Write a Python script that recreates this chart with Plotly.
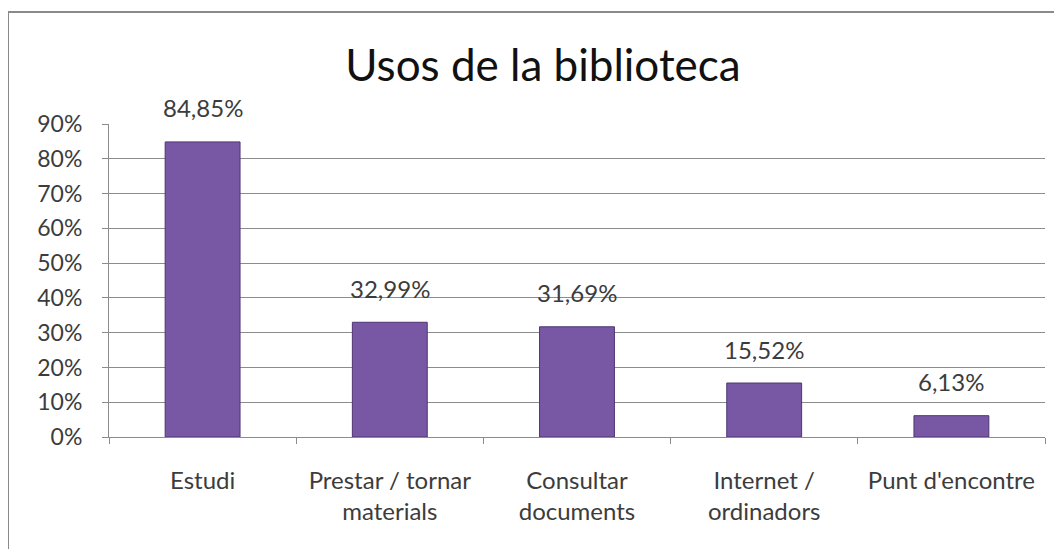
import plotly.graph_objects as go

categories = ["Estudi", "Prestar / tornar<br>materials", "Consultar<br>documents",
              "Internet /<br>ordinadors", "Punt d'encontre"]
values = [84.85, 32.99, 31.69, 15.52, 6.13]
y_ticks = [0, 10, 20, 30, 40, 50, 60, 70, 80, 90]
y_tick_labels = [f"{v}%" for v in y_ticks]
title_text = "Usos de la biblioteca"

FONT = "Lato, 'Open Sans', sans-serif"
TXT = "#3c3c3c"
GRID = "#8c8c8c"

# page body adds 8px offset
L, T = 101, 116
PW, PH = 936, 313

fig = go.Figure()
fig.add_trace(go.Bar(
    x=categories, y=values,
    marker=dict(color="#7858a4", line=dict(color="#4f3573", width=1)),
    width=0.4,
    hoverinfo="skip",
))

for c, v in zip(categories, values):
    fig.add_annotation(
        x=c, y=v, xref="x", yref="y",
        text=f"{v:.2f}%".replace(".", ","),
        showarrow=False, yanchor="middle", yshift=34,
        font=dict(family=FONT, size=24, color=TXT),
    )

fig.update_layout(
    width=1062, height=549,
    margin=dict(l=L, r=1062 - L - PW, t=T, b=549 - T - PH),
    paper_bgcolor="white", plot_bgcolor="white",
    showlegend=False,
    separators=",.",
    font=dict(family=FONT, size=23, color=TXT),
    title=dict(text=title_text, x=(543 - 8) / 1062, xanchor="center",
               y=1 - 58 / 549, yanchor="middle", xref="container", yref="container",
               font=dict(family=FONT, size=44, color="#111111")),
)

fig.update_xaxes(
    type="category",
    showgrid=False,
    showline=True, linecolor=GRID, linewidth=1,
    ticks="outside", tickson="boundaries", ticklen=6, tickcolor=GRID,
    ticklabelstandoff=22,
    tickfont=dict(family=FONT, size=24, color=TXT),
)
fig.update_yaxes(
    range=[0, 90],
    tickvals=y_ticks, ticktext=y_tick_labels,
    showgrid=True, gridcolor=GRID, gridwidth=1,
    showline=True, linecolor=GRID, linewidth=1,
    ticks="outside", ticklen=6, tickcolor=GRID,
    ticklabelstandoff=15,
    zeroline=False,
    tickfont=dict(family=FONT, size=23, color=TXT),
)

# outer chart border
fig.add_shape(type="rect", xref="paper", yref="paper",
              x0=(0 - L) / PW, x1=1.2, y0=-1, y1=1 + (T - 4) / PH,
              line=dict(color="#8a8a8a", width=2), fillcolor="rgba(0,0,0,0)", layer="below")

fig.write_html("out.html")
